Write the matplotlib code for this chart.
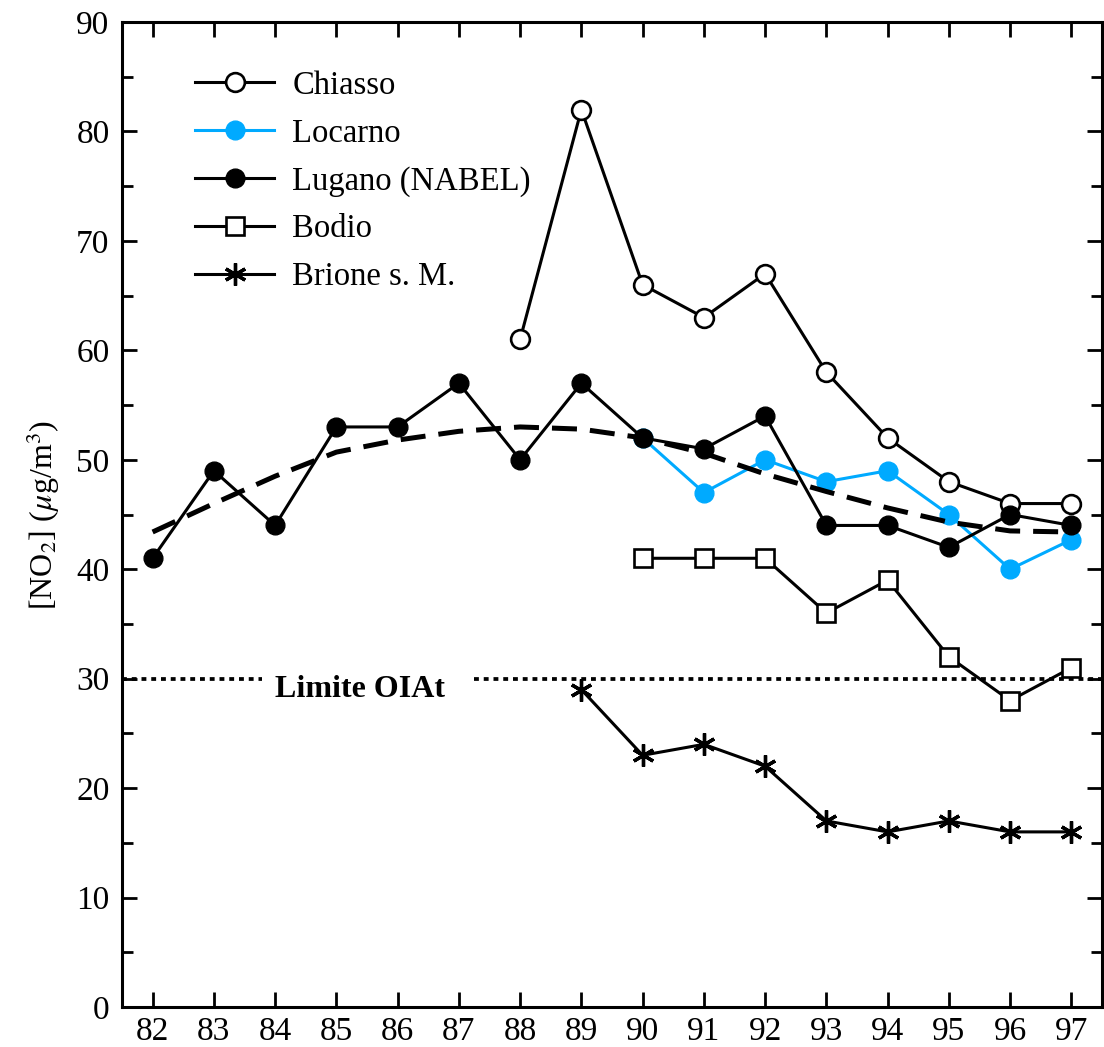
"""NO2 annual means at Ticino stations, 1982-1997."""
import matplotlib
matplotlib.use("Agg")
import matplotlib.pyplot as plt
from matplotlib.ticker import MultipleLocator

plt.rcParams["font.family"] = ["Liberation Serif", "DejaVu Serif"]
plt.rcParams["mathtext.fontset"] = "stix"

# annual means, µg/m3
years_chiasso = [88, 89, 90, 91, 92, 93, 94, 95, 96, 97]
chiasso = [61, 82, 66, 63, 67, 58, 52, 48, 46, 46]

years_locarno = [90, 91, 92, 93, 94, 95, 96, 97]
locarno = [52, 47, 50, 48, 49, 45, 40, 42.7]

years_lugano = list(range(82, 98))
lugano = [41, 49, 44, 53, 53, 57, 50, 57, 52, 51, 54, 44, 44, 42, 45, 44]

years_bodio = [90, 91, 92, 93, 94, 95, 96, 97]
bodio = [41, 41, 41, 36, 39, 32, 28, 31]

years_brione = [89, 90, 91, 92, 93, 94, 95, 96, 97]
brione = [29, 23, 24, 22, 17, 16, 17, 16, 16]

# smoothed trend of the Lugano series
years_trend = list(range(82, 98))
trend = [43.4, 46.0, 48.5, 50.7, 51.8, 52.6, 53.0, 52.8, 52.0, 50.6,
         48.7, 47.1, 45.6, 44.3, 43.5, 43.4]

limit_value = 30
limit_label = "Limite OIAt"

blue = "#00aaff"

fig = plt.figure(figsize=(11.04, 10.47), dpi=100)
ax = fig.add_axes([122 / 1104, 40 / 1047, 980 / 1104, 985 / 1047])

lw = 2.2
ax.plot(years_chiasso, chiasso, color="black", lw=lw, marker="o", ms=13.5,
        mfc="white", mec="black", mew=1.9, label="Chiasso", zorder=3)
ax.plot(years_locarno, locarno, color=blue, lw=lw, marker="o", ms=13.5,
        mfc=blue, mec=blue, label="Locarno", zorder=3)
ax.plot(years_lugano, lugano, color="black", lw=lw, marker="o", ms=13.5,
        mfc="black", mec="black", label="Lugano (NABEL)", zorder=4)
ax.plot(years_bodio, bodio, color="black", lw=lw, marker="s", ms=12.5,
        mfc="white", mec="black", mew=1.9, label="Bodio", zorder=3)
ax.plot(years_brione, brione, color="black", lw=lw, marker=(6, 2, 0), ms=16,
        mec="black", mew=2.4, label="Brione s. M.", zorder=3)

ax.plot(years_trend, trend, color="black", lw=3.6, ls=(0, (5, 2.6)),
        dash_capstyle="butt", zorder=5)

# limit line, interrupted where the label sits
ax.plot([81.5, 83.78], [limit_value] * 2, color="black", lw=2.7,
        ls=(0, (1.3, 1.3)), dash_capstyle="butt", zorder=2)
ax.plot([87.25, 97.5], [limit_value] * 2, color="black", lw=2.7,
        ls=(0, (1.3, 1.3)), dash_capstyle="butt", zorder=2)
ax.text(85.38, limit_value - 1.0, limit_label, ha="center", va="center",
        fontsize=23, fontweight="bold")

ax.set_xlim(81.5, 97.5)
ax.set_ylim(0, 90)
ax.set_xticks(years_lugano)
ax.set_xticklabels([str(y) for y in years_lugano])
ax.yaxis.set_major_locator(MultipleLocator(10))
ax.yaxis.set_minor_locator(MultipleLocator(5))

for s in ax.spines.values():
    s.set_linewidth(2.2)

ax.tick_params(axis="both", which="major", direction="in", length=11,
               width=2.0, labelsize=24, top=True, right=True)
ax.tick_params(axis="both", which="minor", direction="in", length=8,
               width=2.0, right=True)
ax.tick_params(axis="y", which="major", pad=9)
ax.tick_params(axis="x", which="major", pad=7)

ax.set_ylabel(r"[NO$_2$] ($\mu$g/m$^3$)", fontsize=23, labelpad=10)

ax.legend(loc="upper left", bbox_to_anchor=(0.074, 0.951), frameon=False,
          fontsize=23.5, handlelength=2.45, handletextpad=0.55,
          labelspacing=0.53, borderpad=0, borderaxespad=0)

fig.savefig("out.png", dpi=100)
